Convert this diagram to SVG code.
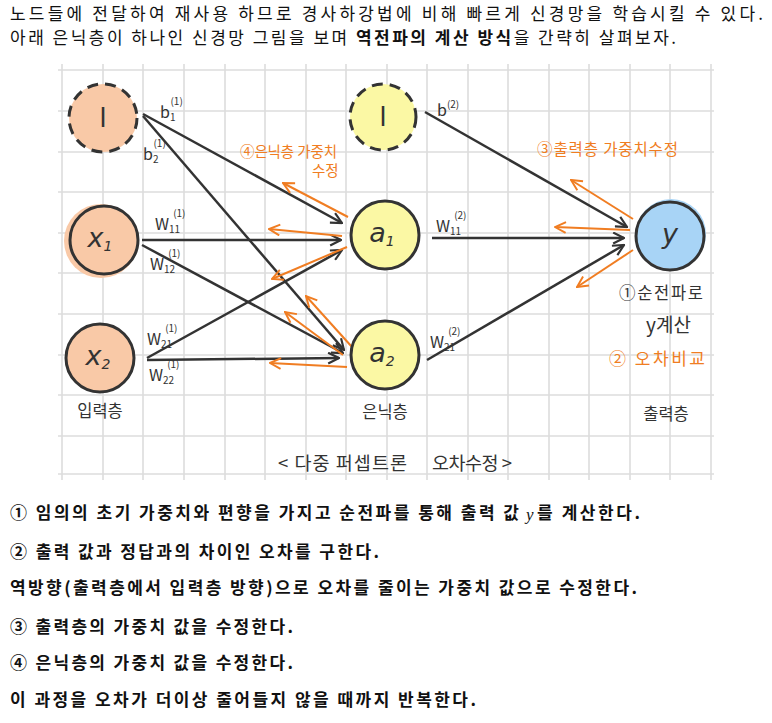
<svg xmlns="http://www.w3.org/2000/svg" width="772" height="723" viewBox="0 0 772 723">
<style>
.top{font-family:"Noto Sans CJK KR","Noto Sans",sans-serif;font-size:17px;fill:#111}
.bot{font-family:"Noto Sans CJK KR","Noto Sans",sans-serif;font-size:17px;font-weight:700;fill:#111}
.grid line{stroke:#dcdcdc;stroke-width:1.6}
.node{stroke:#333;stroke-width:3}
.bias{stroke-dasharray:11 7}
.hand{font-family:"Noto Sans CJK KR","Noto Sans",sans-serif;fill:#333}
.or{font-family:"Noto Sans CJK KR","Noto Sans",sans-serif;fill:#f07d22}
.lbl{font-family:"Noto Sans CJK KR","Noto Sans",sans-serif;fill:#333;font-size:16px}
.sup{font-size:10px}
.big{font-family:"DejaVu Sans","Noto Sans",sans-serif;font-size:27px;fill:#333}
.fw{stroke:#333;stroke-width:2.5;fill:none}
.bw{stroke:#f07d22;stroke-width:2;fill:none}
</style>
<defs>
<marker id="ab" viewBox="0 0 12 12" refX="11" refY="6" markerWidth="13" markerHeight="13" markerUnits="userSpaceOnUse" orient="auto">
<path d="M1,1 L11,6 L1,11" fill="none" stroke="#333" stroke-width="2"/>
</marker>
<marker id="ao" viewBox="0 0 12 12" refX="11" refY="6" markerWidth="13" markerHeight="13" markerUnits="userSpaceOnUse" orient="auto">
<path d="M1,1 L11,6 L1,11" fill="none" stroke="#f07d22" stroke-width="1.8"/>
</marker>
</defs>
<rect width="772" height="723" fill="#fff"/>
<text class="top" x="10" y="20" textLength="753" lengthAdjust="spacing">노드들에 전달하여 재사용 하므로 경사하강법에 비해 빠르게 신경망을 학습시킬 수 있다.</text>
<text class="top" x="10" y="44" textLength="666" lengthAdjust="spacing">아래 은닉층이 하나인 신경망 그림을 보며 <tspan font-weight="700">역전파의 계산 방식</tspan>을 간략히 살펴보자.</text>

<g class="grid">
<line x1="62" y1="64" x2="62" y2="480"/><line x1="103" y1="64" x2="103" y2="480"/><line x1="143" y1="64" x2="143" y2="480"/><line x1="184" y1="64" x2="184" y2="480"/><line x1="225" y1="64" x2="225" y2="480"/><line x1="265" y1="64" x2="265" y2="480"/><line x1="306" y1="64" x2="306" y2="480"/><line x1="346" y1="64" x2="346" y2="480"/><line x1="387" y1="64" x2="387" y2="480"/><line x1="427" y1="64" x2="427" y2="480"/><line x1="468" y1="64" x2="468" y2="480"/><line x1="508" y1="64" x2="508" y2="480"/><line x1="549" y1="64" x2="549" y2="480"/><line x1="589" y1="64" x2="589" y2="480"/><line x1="630" y1="64" x2="630" y2="480"/><line x1="670" y1="64" x2="670" y2="480"/><line x1="711" y1="64" x2="711" y2="480"/>
<line x1="58" y1="70" x2="714" y2="70"/><line x1="58" y1="111" x2="714" y2="111"/><line x1="58" y1="152" x2="714" y2="152"/><line x1="58" y1="192" x2="714" y2="192"/><line x1="58" y1="233" x2="714" y2="233"/><line x1="58" y1="273" x2="714" y2="273"/><line x1="58" y1="314" x2="714" y2="314"/><line x1="58" y1="355" x2="714" y2="355"/><line x1="58" y1="395" x2="714" y2="395"/><line x1="58" y1="436" x2="714" y2="436"/><line x1="58" y1="474" x2="714" y2="474"/>
</g>

<g id="connectors">
<line class="fw" x1="143" y1="114" x2="342" y2="223" marker-end="url(#ab)"/>
<line class="fw" x1="143" y1="116" x2="344" y2="350" marker-end="url(#ab)"/>
<line class="fw" x1="142" y1="240" x2="341" y2="240" marker-end="url(#ab)"/>
<line class="fw" x1="142" y1="245" x2="343" y2="353" marker-end="url(#ab)"/>
<line class="fw" x1="147" y1="358" x2="342" y2="250" marker-end="url(#ab)"/>
<line class="fw" x1="147" y1="360" x2="339" y2="358" marker-end="url(#ab)"/>
<line class="fw" x1="425" y1="112" x2="627" y2="227" marker-end="url(#ab)"/>
<line class="fw" x1="432" y1="238" x2="624" y2="238" marker-end="url(#ab)"/>
<line class="fw" x1="427" y1="360" x2="624" y2="245" marker-end="url(#ab)"/>
<line class="bw" x1="348" y1="217" x2="283" y2="183" marker-end="url(#ao)"/>
<line class="bw" x1="342" y1="236" x2="269" y2="229" marker-end="url(#ao)"/>
<line class="bw" x1="347" y1="247" x2="272" y2="279" marker-end="url(#ao)"/>
<line class="bw" x1="352" y1="347" x2="306" y2="296" marker-end="url(#ao)"/>
<line class="bw" x1="343" y1="355" x2="285" y2="312" marker-end="url(#ao)"/>
<line class="bw" x1="347" y1="367" x2="270" y2="363" marker-end="url(#ao)"/>
<line class="bw" x1="633" y1="219" x2="571" y2="180" marker-end="url(#ao)"/>
<line class="bw" x1="630" y1="230" x2="555" y2="227" marker-end="url(#ao)"/>
<line class="bw" x1="633" y1="250" x2="577" y2="287" marker-end="url(#ao)"/>
</g>

<g id="bias1">
<circle class="node bias" cx="103" cy="118" r="34" fill="#f9c9a7"/>
<text class="big" x="103" y="127" text-anchor="middle">l</text>
</g>
<g id="x1">
<circle cx="101" cy="241" r="37" fill="#f9c9a7"/>
<circle class="node" cx="104" cy="240" r="34" fill="none"/>
<text class="big" x="100" y="247" text-anchor="middle" font-style="italic">x<tspan font-size="14" dy="4">1</tspan></text>
</g>
<g id="x2">
<circle class="node" cx="100" cy="358" r="34" fill="#f9c9a7"/>
<text class="big" x="98" y="365" text-anchor="middle" font-style="italic">x<tspan font-size="14" dy="4">2</tspan></text>
</g>
<g id="bias2">
<circle class="node bias" cx="383" cy="117" r="33" fill="#fbf8a4"/>
<text class="big" x="383" y="126" text-anchor="middle">l</text>
</g>
<g id="a1">
<circle class="node" cx="385" cy="235" r="34" fill="#fbf8a4"/>
<text class="big" x="382" y="242" text-anchor="middle" font-style="italic">a<tspan font-size="14" dy="4">1</tspan></text>
</g>
<g id="a2">
<circle class="node" cx="385" cy="355" r="34" fill="#fbf8a4"/>
<text class="big" x="382" y="362" text-anchor="middle" font-style="italic">a<tspan font-size="14" dy="4">2</tspan></text>
</g>
<g id="y">
<circle cx="671" cy="234" r="35" fill="#a8d4f6"/>
<circle class="node" cx="670" cy="236" r="34" fill="none"/>
<text class="big" x="670" y="243" text-anchor="middle" font-style="italic">y</text>
</g>

<g id="weights">
<text class="lbl" x="160" y="118">b<tspan class="sup" dy="3">1</tspan><tspan class="sup" dx="-5" dy="-16">(1)</tspan></text>
<text class="lbl" x="143" y="160">b<tspan class="sup" dy="3">2</tspan><tspan class="sup" dx="-5" dy="-16">(1)</tspan></text>
<text class="lbl" x="155" y="230">W<tspan class="sup" dy="3">11</tspan><tspan class="sup" dx="-7" dy="-16">(1)</tspan></text>
<text class="lbl" x="150" y="270">W<tspan class="sup" dy="3">12</tspan><tspan class="sup" dx="-7" dy="-16">(1)</tspan></text>
<text class="lbl" x="147" y="345">W<tspan class="sup" dy="3">21</tspan><tspan class="sup" dx="-7" dy="-16">(1)</tspan></text>
<text class="lbl" x="149" y="381">W<tspan class="sup" dy="3">22</tspan><tspan class="sup" dx="-7" dy="-16">(1)</tspan></text>
<text class="lbl" x="437" y="116">b<tspan class="sup" dy="-8">(2)</tspan></text>
<text class="lbl" x="436" y="232">W<tspan class="sup" dy="3">11</tspan><tspan class="sup" dx="-7" dy="-16">(2)</tspan></text>
<text class="lbl" x="430" y="348">W<tspan class="sup" dy="3">21</tspan><tspan class="sup" dx="-7" dy="-16">(2)</tspan></text>
</g>

<g id="notes">
<text class="or" x="240" y="157" font-size="14.5" textLength="97" lengthAdjust="spacing">④은닉층 가중치</text>
<text class="or" x="312" y="176" font-size="14.5">수정</text>
<text class="or" x="537" y="155" font-size="15.5" textLength="141" lengthAdjust="spacing">③출력층 가중치수정</text>
<text class="hand" x="619" y="299" font-size="16.5" textLength="84" lengthAdjust="spacing">①순전파로</text>
<text class="hand" x="646" y="332" font-size="19">y계산</text>
<text class="or" x="609" y="365" font-size="17" textLength="96" lengthAdjust="spacing">② 오차비교</text>
<text class="hand" x="100" y="417" font-size="16.5" text-anchor="middle">입력층</text>
<text class="hand" x="385" y="418" font-size="16.5" text-anchor="middle">은닉층</text>
<text class="hand" x="666" y="420" font-size="16.5" text-anchor="middle">출력층</text>
<text class="hand" x="278" y="470" font-size="18.5" textLength="129" lengthAdjust="spacing">&lt; 다중 퍼셉트론</text>
<text class="hand" x="432" y="470" font-size="18.5" textLength="80" lengthAdjust="spacing">오차수정 &gt;</text>
</g>

<g id="steps">
<text class="bot" x="10" y="519" textLength="509" lengthAdjust="spacing">① 임의의 초기 가중치와 편향을 가지고 순전파를 통해 출력 값</text>
<text x="526" y="520" font-family="Liberation Serif,serif" font-style="italic" font-size="17" fill="#111">y</text>
<text class="bot" x="537" y="519" textLength="103" lengthAdjust="spacing">를 계산한다.</text>
<text class="bot" x="10" y="558" textLength="369" lengthAdjust="spacing">② 출력 값과 정답과의 차이인 오차를 구한다.</text>
<text class="bot" x="10" y="594" textLength="627" lengthAdjust="spacing">역방향(출력층에서 입력층 방향)으로 오차를 줄이는 가중치 값으로 수정한다.</text>
<text class="bot" x="10" y="633" textLength="283" lengthAdjust="spacing">③ 출력층의 가중치 값을 수정한다.</text>
<text class="bot" x="10" y="669" textLength="283" lengthAdjust="spacing">④ 은닉층의 가중치 값을 수정한다.</text>
<text class="bot" x="10" y="706" textLength="466" lengthAdjust="spacing">이 과정을 오차가 더이상 줄어들지 않을 때까지 반복한다.</text>
</g>
</svg>
